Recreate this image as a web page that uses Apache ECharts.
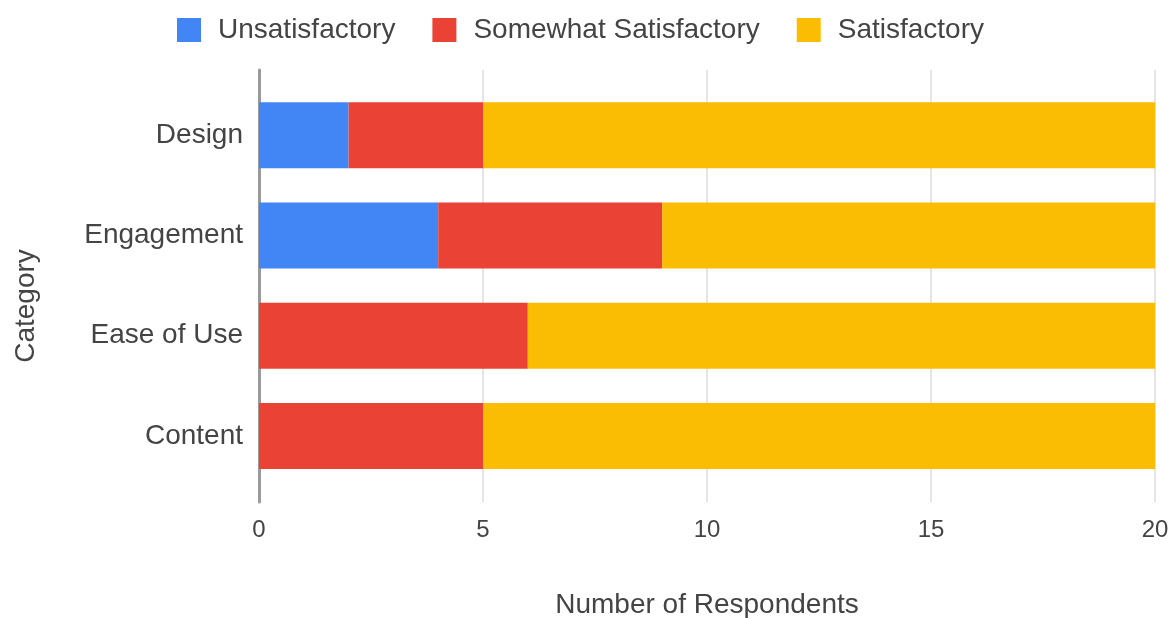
<!DOCTYPE html>
<html>
<head>
<meta charset="utf-8">
<script src="https://cdn.jsdelivr.net/npm/echarts@6/dist/echarts.min.js"></script>
<style>
  html, body { margin: 0; padding: 0; background: #fff; }
  #chart { width: 1174px; height: 618px; }
</style>
</head>
<body>
<div id="chart"></div>
<script>
var categories = ['Design', 'Engagement', 'Ease of Use', 'Content'];
var unsatisfactory = [2, 4, 0, 0];
var somewhat = [3, 5, 6, 5];
var satisfactory = [15, 11, 14, 15];
var xTicks = [0, 5, 10, 15, 20];

var font = '"Liberation Sans", Arial, sans-serif';
var textColor = '#444';

var chart = echarts.init(document.getElementById('chart'));
var option = {
    animation: false,
    color: ['#4285F4', '#EA4335', '#FBBC04'],
    legend: {
        top: 16,
        left: 177,
        padding: 0,
        icon: 'rect',
        itemWidth: 24,
        itemHeight: 24,
        itemGap: 37,
        textStyle: { fontSize: 28, color: textColor, fontFamily: font, padding: [0, 0, 0, 12] },
        data: ['Unsatisfactory', 'Somewhat Satisfactory', 'Satisfactory']
    },
    grid: [
        // gridlines + value axis
        { left: 259, right: 19, top: 70, bottom: 116, outerBoundsMode: 'none', containLabel: false },
        // bars
        { left: 259, right: 19, top: 85, bottom: 132, outerBoundsMode: 'none', containLabel: false }
    ],
    xAxis: [
        {
            gridIndex: 0,
            type: 'value',
            min: xTicks[0],
            max: xTicks[xTicks.length - 1],
            interval: 5,
            axisLine: { show: false },
            axisTick: { show: false },
            axisLabel: { fontSize: 24, color: textColor, fontFamily: font, margin: 16 },
            splitLine: { lineStyle: { color: '#dcdcdc', width: 1.5 } },
            name: 'Number of Respondents',
            nameLocation: 'middle',
            nameGap: 89,
            nameTextStyle: { fontSize: 28, color: textColor, fontFamily: font }
        },
        {
            gridIndex: 1,
            type: 'value',
            min: xTicks[0],
            max: xTicks[xTicks.length - 1],
            show: false
        }
    ],
    yAxis: [
        {
            gridIndex: 0,
            type: 'category',
            data: [''],
            axisLine: { show: true, lineStyle: { color: '#9a9a9a', width: 3 } },
            axisTick: { show: false },
            axisLabel: { show: false },
            splitLine: { show: false }
        },
        {
            gridIndex: 1,
            type: 'category',
            inverse: true,
            data: categories,
            axisLine: { show: false },
            axisTick: { show: false },
            axisLabel: { fontSize: 28, color: textColor, fontFamily: font, margin: 16 }
        }
    ],
    graphic: [{
        type: 'text',
        x: 26,
        y: 306,
        rotation: Math.PI / 2,
        style: {
            text: 'Category',
            fontSize: 28,
            fontFamily: font,
            fill: textColor,
            align: 'center',
            verticalAlign: 'middle'
        }
    }],
    series: [
        { name: 'Unsatisfactory', type: 'bar', stack: 'total', xAxisIndex: 1, yAxisIndex: 1, barWidth: 66, data: unsatisfactory },
        { name: 'Somewhat Satisfactory', type: 'bar', stack: 'total', xAxisIndex: 1, yAxisIndex: 1, barWidth: 66, data: somewhat },
        { name: 'Satisfactory', type: 'bar', stack: 'total', xAxisIndex: 1, yAxisIndex: 1, barWidth: 66, data: satisfactory }
    ]
};
chart.setOption(option);
</script>
</body>
</html>
